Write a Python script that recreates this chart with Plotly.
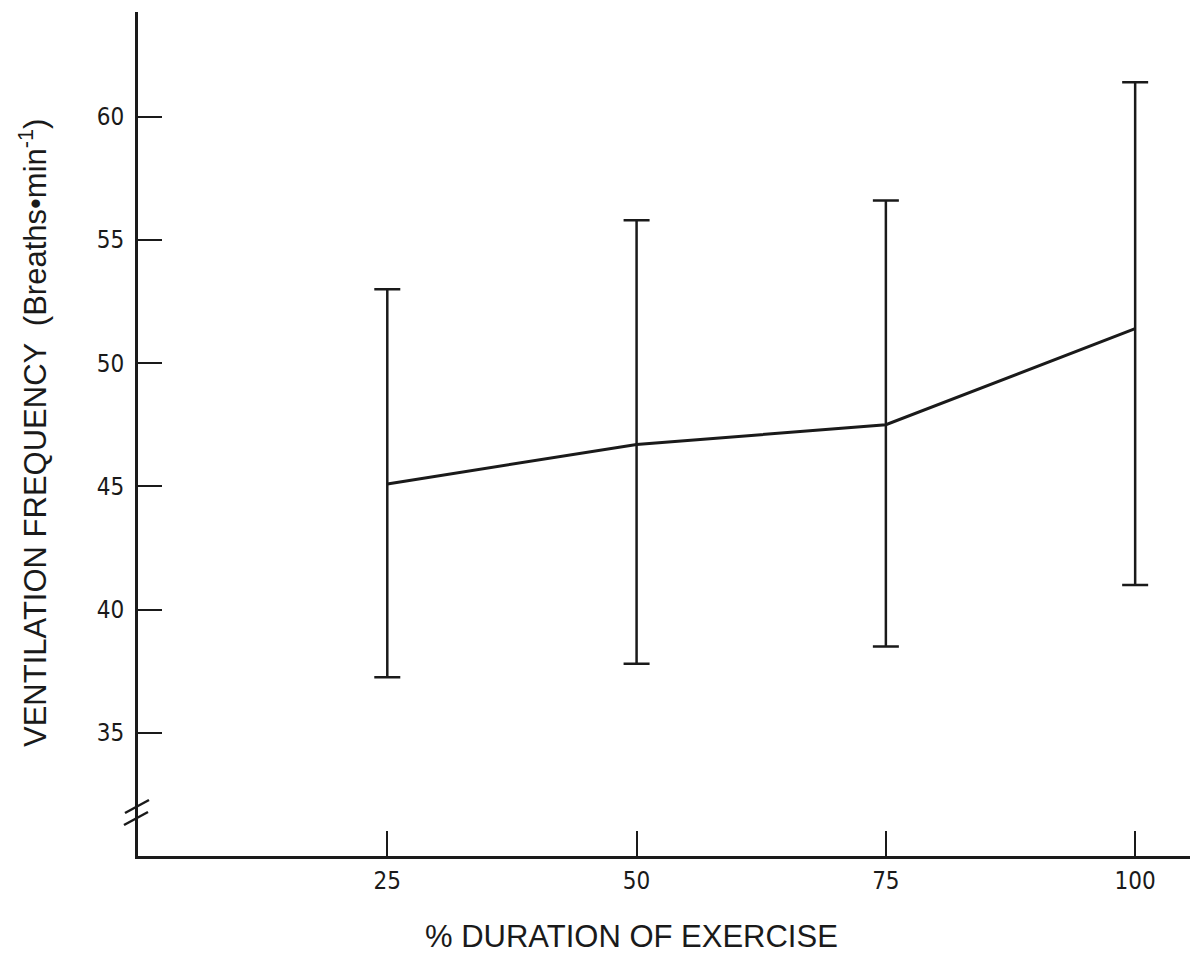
import plotly.graph_objects as go

# Data
duration_pct = [25, 50, 75, 100]
vent_freq_mean = [45.1, 46.7, 47.5, 51.4]
err_plus = [7.9, 9.1, 9.1, 10.0]
err_minus = [7.85, 8.9, 9.0, 10.4]

x_ticks = [25, 50, 75, 100]
y_ticks = [35, 40, 45, 50, 55, 60]

INK = "#1a1a1a"
TICKFONT = dict(family="DejaVu Sans Condensed, Liberation Sans Narrow, Arial Narrow, sans-serif",
                size=24, color=INK)
TITLEFONT = dict(family="Liberation Sans, Arial, Helvetica, sans-serif", size=31, color=INK)

fig = go.Figure()
fig.add_trace(go.Scatter(
    x=duration_pct, y=vent_freq_mean, mode="lines",
    line=dict(color=INK, width=3),
    error_y=dict(type="data", symmetric=False, array=err_plus, arrayminus=err_minus,
                 color=INK, thickness=2.5, width=13),
    showlegend=False, hoverinfo="skip",
))

# page body has an 8px margin; figure coordinates = screen - 8
OFF = 8
W, H = 1194, 947
L, T = 138 - OFF, 12 - OFF
R = W - (1190 - OFF)
B = H - (856 - OFF)
pw, ph = W - L - R, H - T - B

def px_to_paper(sx, sy):
    fx, fy = sx - OFF, sy - OFF
    return (fx - L) / pw, (H - B - fy) / ph

# axis break mark "//" on the y axis
shapes = []
for (x0p, y0p, x1p, y1p) in [(125, 813, 149, 800), (124, 825, 148, 812)]:
    ax0, ay0 = px_to_paper(x0p, y0p)
    ax1, ay1 = px_to_paper(x1p, y1p)
    shapes.append(dict(type="line", xref="paper", yref="paper", x0=ax0, y0=ay0, x1=ax1, y1=ay1,
                       line=dict(color=INK, width=2.5), layer="above"))

yt_x, yt_y = px_to_paper(33, 433)
xt_x, xt_y = px_to_paper(631, 936)

fig.update_layout(
    width=W, height=H,
    margin=dict(l=L, r=R, t=T, b=B, pad=0),
    paper_bgcolor="white", plot_bgcolor="white",
    shapes=shapes,
    annotations=[
        dict(text="VENTILATION FREQUENCY  (Breaths\u2022min<sup>-1</sup>)", xref="paper", yref="paper",
             x=yt_x, y=yt_y, xanchor="center", yanchor="middle", textangle=-90,
             showarrow=False, font=TITLEFONT),
        dict(text="% DURATION OF EXERCISE", xref="paper", yref="paper",
             x=xt_x, y=xt_y, xanchor="center", yanchor="middle",
             showarrow=False, font=TITLEFONT),
    ],
    xaxis=dict(range=[0, 105.5], tickvals=x_ticks, ticktext=[str(v) for v in x_ticks],
               ticks="inside", ticklen=25, tickwidth=2, tickcolor=INK,
               showline=True, linecolor=INK, linewidth=3, showgrid=False, zeroline=False,
               tickfont=TICKFONT, ticklabelstandoff=1),
    yaxis=dict(range=[30, 64.25], tickvals=y_ticks, ticktext=[str(v) for v in y_ticks],
               ticks="inside", ticklen=24, tickwidth=2, tickcolor=INK,
               showline=True, linecolor=INK, linewidth=3, showgrid=False, zeroline=False,
               tickfont=TICKFONT, ticklabelstandoff=6),
)

fig.write_html("out.html")
